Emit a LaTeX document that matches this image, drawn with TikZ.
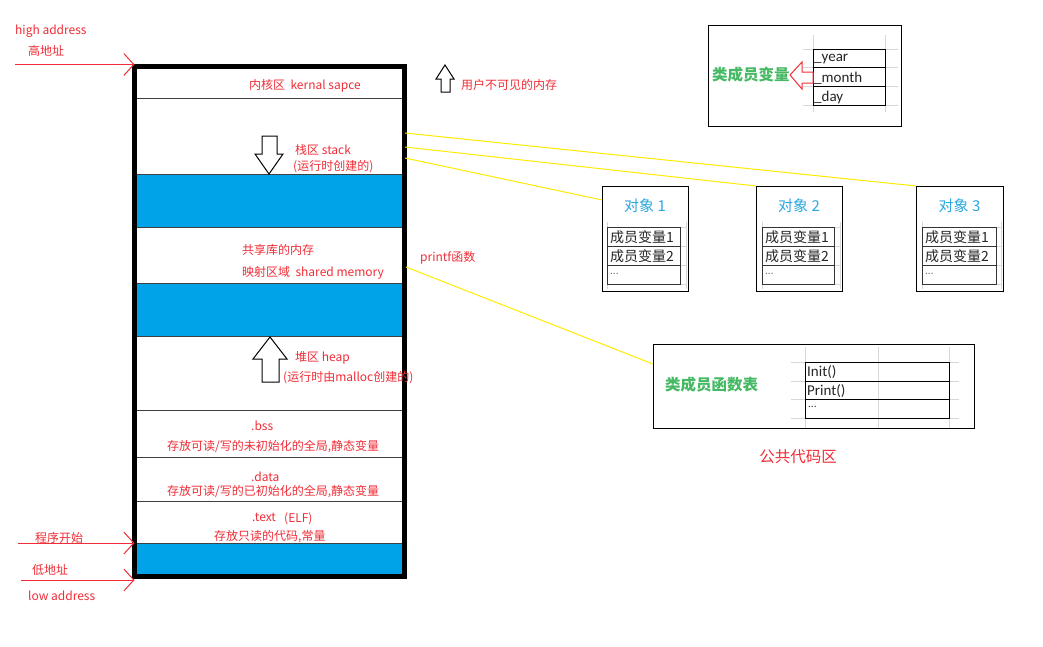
\documentclass[tikz,border=0pt]{standalone}
\usepackage{fontspec}
\setmainfont{Noto Sans CJK SC}
\newfontfamily\latcell{Carlito}
\usetikzlibrary{arrows.meta}
\definecolor{myred}{RGB}{240,45,55}
\definecolor{myblue}{RGB}{0,162,232}
\definecolor{ttlblue}{RGB}{41,168,224}
\definecolor{mygreen}{RGB}{70,185,100}
\definecolor{myyellow}{RGB}{255,235,0}
\definecolor{gridgray}{RGB}{215,215,215}
\tikzset{
  lbl/.style={text=myred, font=\fontsize{12}{14}\selectfont, inner sep=0, anchor=west},
  cell/.style={text=black!85, font=\fontsize{14}{16}\selectfont, inner sep=0, anchor=west},
  lcell/.style={text=black!85, font=\latcell\fontsize{15}{17}\selectfont, inner sep=0, anchor=west},
  ttl/.style={text=ttlblue, font=\fontsize{15}{17}\selectfont, inner sep=0},
  grn/.style={text=mygreen, font=\bfseries\fontsize{15.5}{18}\selectfont, inner sep=0, anchor=west},
  redarrow/.style={draw=myred, line width=1pt, -{Straight Barb[length=10pt,width=22pt]}},
  yline/.style={draw=myyellow, line width=1pt},
  divider/.style={draw=black!75, line width=1pt},
  hollow/.style={draw=black, line width=1pt, fill=white},
  boxframe/.style={draw=black, line width=1pt, inner sep=0, anchor=north west},
  grid/.style={draw=gridgray, line width=1pt},
}
\begin{document}
\begin{tikzpicture}[x=1pt,y=-1pt]
\useasboundingbox[fill=white] (0,0) rectangle (1043,646);

% memory frame
\node[inner sep=0, minimum width=270pt, minimum height=510pt, anchor=north west] (mem) at (134.5,66.5) {};
\fill[myblue] (134.5,174) rectangle (404.5,227);
\fill[myblue] (134.5,283) rectangle (404.5,336);
\fill[myblue] (134.5,543) rectangle (404.5,576.5);
\foreach \yy in {98,174,227,283,336,410,457,501,543}
  \draw[divider] (134.5,\yy) -- (404.5,\yy);
\draw[line width=5pt] (mem.north west) rectangle (mem.south east);

% hollow arrows
\draw[hollow] (262,136) -- (277,136) -- (277,154) -- (283,154) -- (269,174) -- (255,154) -- (262,154) -- cycle;
\draw[hollow] (270,337) -- (287,359) -- (279,359) -- (279,382) -- (262,382) -- (262,359) -- (253,359) -- cycle;
\draw[hollow] (445,65) -- (454,79) -- (450,79) -- (450,92) -- (441,92) -- (441,79) -- (436,79) -- cycle;

% labels
\node[lbl] (t1) at (15,31) {high address};
\node[lbl] (t2) at (28,51) {高地址};
\node[lbl] (t3) at (249,86) {内核区\ \ kernal sapce};
\node[lbl] (t4) at (461,85) {用户不可见的内存};
\node[lbl] (t5) at (295,150) {栈区 stack};
\node[lbl] (t6) at (293,167) {(运行时创建的)};
\node[lbl] (t7) at (242,250) {共享库的内存};
\node[lbl] (t8) at (242,273) {映射区域\ \ shared memory};
\node[lbl] (t9) at (420,258) {printf函数};
\node[lbl] (t10) at (295,358) {堆区 heap};
\node[lbl] (t11) at (283,378) {(运行时由malloc创建的)};
\node[lbl] (t12) at (251,426) {.bss};
\node[lbl] (t13) at (167,447) {存放可读/写的未初始化的全局,静态变量};
\node[lbl] (t14) at (251,477) {.data};
\node[lbl] (t15) at (167,492) {存放可读/写的已初始化的全局,静态变量};
\node[lbl] (t16) at (252,517) {.text};
\node[lbl] (t17) at (284,519) {(ELF)};
\node[lbl] (t18) at (214,537) {存放只读的代码,常量};
\node[lbl] (t19) at (35,538) {程序开始};
\node[lbl] (t20) at (32,570) {低地址};
\node[lbl] (t21) at (28,596) {low address};

% red pointer arrows
\coordinate (ha) at (15,64.5);
\coordinate (ps) at (18,543);
\coordinate (la) at (21,580);
\draw[redarrow] (ha) -- (ha -| mem.west);
\draw[redarrow] (ps) -- (ps -| mem.west);
\draw[redarrow] (la) -- (la -| mem.west);

% class member variable box
\node[boxframe, minimum width=193pt, minimum height=101pt] (cmv) at (708,25) {};
\foreach \yy in {49,67,86,105} \draw[grid] (803,\yy) -- (898,\yy);
\foreach \xx in {813,885} \draw[grid] (\xx,35) -- (\xx,112);
\draw[line width=1pt] (813,49) rectangle (885,105);
\draw[line width=1pt] (813,67) -- (885,67) (813,86) -- (885,86);
\node[lcell] (v1) at (814,59) {\_year};
\node[lcell] (v2) at (814,78) {\_month};
\node[lcell] (v3) at (814,97) {\_day};
\node[grn] (cmvt) at (712,75) {类成员变量};
\draw[draw=myred, line width=1pt, fill=white] (790,75) -- (802,62) -- (802,72) -- (813,72) -- (813,83) -- (802,83) -- (802,89) -- cycle;

% objects
\foreach \bx/\bw/\tx/\tw/\n in {602/86/607/73/1, 756/86/762/72/2, 916/87/922/74/3} {
  \node[boxframe, minimum width=\bw pt, minimum height=105pt] (obj\n) at (\bx,186) {};
  \node[ttl] (ot\n) at (\bx+\bw/2,206) {对象 \n};
  \foreach \yy in {227,246,265,284} \draw[grid] (\tx,\yy) -- (\bx+\bw-2,\yy);
  \draw[grid] (\tx,222) -- (\tx,289);
  \draw[grid] (\bx+\bw-2,222) -- (\bx+\bw-2,289);
  \draw[line width=1pt, draw=black!80] (\tx,227) rectangle (\tx+\tw,284);
  \draw[line width=1pt, draw=black!80] (\tx,246) -- (\tx+\tw,246) (\tx,265) -- (\tx+\tw,265);
  \node[cell] (m1o\n) at (\tx+3,237) {成员变量1};
  \node[cell] (m2o\n) at (\tx+3,256) {成员变量2};
  \node[cell, text=black!60, font=\fontsize{10}{12}\selectfont] (m3o\n) at (\tx+3,274) {...};
}

% function table box
\node[boxframe, minimum width=321pt, minimum height=84pt] (func) at (653,344) {};
\foreach \yy in {362,381,399,418} \draw[grid] (791,\yy) -- (959,\yy);
\foreach \xx in {805,878,949} \draw[grid] (\xx,347) -- (\xx,428);
\draw[line width=1pt] (805,362) rectangle (949,418);
\draw[line width=1pt] (805,381) -- (949,381) (805,399) -- (949,399);
\node[lcell] (f1) at (807,372) {Init()};
\node[lcell] (f2) at (807,391) {Print()};
\node[cell, font=\fontsize{10}{12}\selectfont] (f3) at (808,407) {...};
\node[grn] (funct) at (665,385) {类成员函数表};
\node[text=myred, font=\fontsize{15.5}{18}\selectfont, inner sep=0] (pub) at (798,457) {公共代码区};

% yellow connectors
\coordinate (y1) at (405,133);
\coordinate (y2) at (405,147);
\coordinate (y3) at (405,158);
\coordinate (y4) at (406,267);
\draw[yline] (y1) -- (obj3.north west);
\draw[yline] (y2) -- (obj2.north west);
\draw[yline] (y3) -- ([yshift=-14pt]obj1.north west);
\draw[yline] (y4) -- ([yshift=-20pt]func.north west);
\end{tikzpicture}
\end{document}
